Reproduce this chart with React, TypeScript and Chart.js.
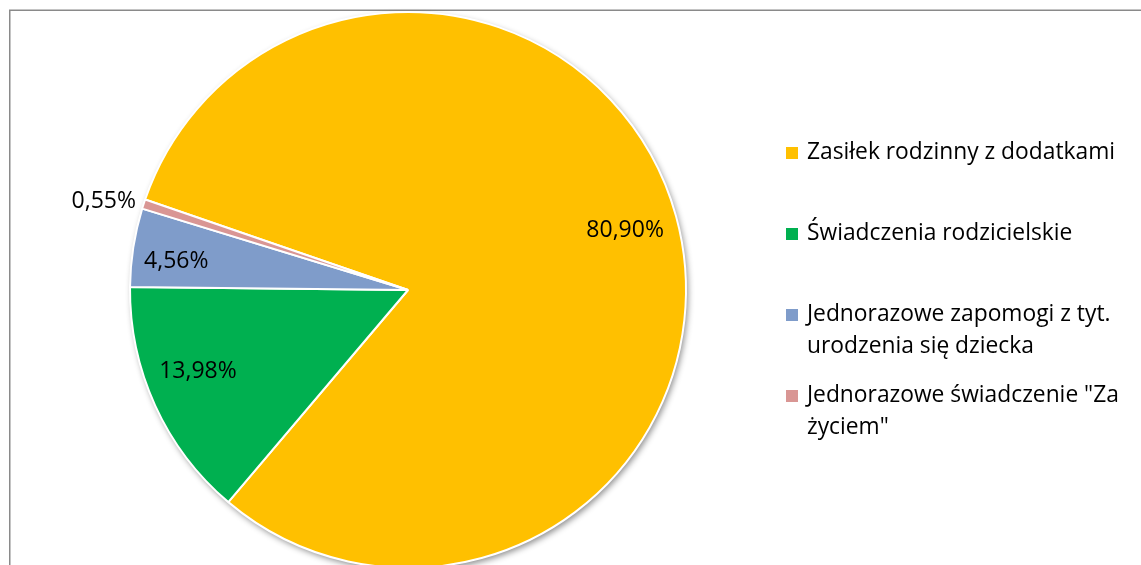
import React, { useEffect, useRef } from "react";
import { Chart, registerables } from "chart.js";

Chart.register(...registerables);

const categories: string[][] = [
  ["Zasiłek rodzinny z dodatkami"],
  ["Świadczenia rodzicielskie"],
  ["Jednorazowe zapomogi z tyt.", "urodzenia się dziecka"],
  ["Jednorazowe świadczenie \"Za", "życiem\""],
];
const values: number[] = [80.9, 13.98, 4.56, 0.55];
const valueLabels: string[] = ["80,90%", "13,98%", "4,56%", "0,55%"];
const colors: string[] = ["#FFC000", "#00B050", "#7F9CCA", "#D99694"];

const FONT = "'Open Sans', 'Noto Sans', sans-serif";

const framePlugin = {
  id: "frame",
  beforeDraw(chart: any) {
    const ctx = chart.ctx;
    ctx.save();
    ctx.fillStyle = "#ffffff";
    ctx.fillRect(0, 0, chart.width, chart.height);
    ctx.strokeStyle = "#8a8a8a";
    ctx.lineWidth = 1.5;
    ctx.beginPath();
    ctx.moveTo(9.75, chart.height);
    ctx.lineTo(9.75, 10.25);
    ctx.lineTo(chart.width, 10.25);
    ctx.stroke();
    ctx.restore();
  },
  beforeDatasetsDraw(chart: any) {
    const meta = chart.getDatasetMeta(0);
    const arc = meta.data[0];
    if (!arc) return;
    const ctx = chart.ctx;
    ctx.save();
    ctx.shadowColor = "rgba(0,0,0,0.45)";
    ctx.shadowBlur = 6;
    ctx.shadowOffsetX = 2;
    ctx.shadowOffsetY = 3;
    ctx.fillStyle = "#ffffff";
    ctx.beginPath();
    ctx.arc(arc.x, arc.y, arc.outerRadius, 0, Math.PI * 2);
    ctx.fill();
    ctx.restore();
  },
};

// radial position of each label as a fraction of the radius (negative = outside)
const labelFactors = [0.81, 0.81, 0.84, -1];
// angular shift of label positions (radians)
const labelAngleShift = [0, 0.06, -0.03, 0];

const labelPlugin = {
  id: "sliceLabels",
  afterDatasetsDraw(chart: any) {
    const ctx = chart.ctx;
    const meta = chart.getDatasetMeta(0);
    ctx.save();
    ctx.fillStyle = "#000000";
    ctx.font = `23px ${FONT}`;
    ctx.textBaseline = "middle";
    meta.data.forEach((arc: any, i: number) => {
      const mid = (arc.startAngle + arc.endAngle) / 2 + labelAngleShift[i];
      const f = labelFactors[i];
      if (f > 0) {
        const r = arc.outerRadius * f;
        ctx.textAlign = "center";
        ctx.fillText(valueLabels[i], arc.x + Math.cos(mid) * r, arc.y + Math.sin(mid) * r);
      } else {
        const r = arc.outerRadius + 8;
        ctx.textAlign = "right";
        ctx.fillText(valueLabels[i], arc.x + Math.cos(mid) * r, arc.y + Math.sin(mid) * r);
      }
    });
    ctx.restore();
  },
};

const legendPlugin = {
  id: "customLegend",
  afterDraw(chart: any) {
    const ctx = chart.ctx;
    const labels = chart.data.labels as string[][];
    const bg = chart.data.datasets[0].backgroundColor as string[];
    const boxX = 786;
    const textX = 807;
    const firstY = 153;
    const itemStep = 81;
    const lineH = 32;
    const box = 12;
    ctx.save();
    ctx.font = `22.8px ${FONT}`;
    ctx.textBaseline = "middle";
    ctx.textAlign = "left";
    labels.forEach((lines, i) => {
      const y = firstY + i * itemStep;
      ctx.fillStyle = bg[i];
      ctx.fillRect(boxX, y - box / 2, box, box);
      ctx.fillStyle = "#000000";
      lines.forEach((ln, j) => {
        ctx.fillText(ln, textX, y + j * lineH);
      });
    });
    ctx.restore();
  },
};

export default function App() {
  const ref = useRef<HTMLCanvasElement>(null);
  useEffect(() => {
    document.body.style.margin = "0";
    if (!ref.current) return;
    const chart = new Chart(ref.current, {
      type: "pie",
      data: {
        labels: categories,
        datasets: [
          {
            data: values,
            backgroundColor: colors,
            borderColor: "#ffffff",
            borderWidth: 2,
          },
        ],
      },
      options: {
        animation: false,
        responsive: false,
        rotation: 289,
        layout: { padding: { top: 11, bottom: 31, left: 129, right: 454 } },
        plugins: {
          legend: { display: false },
          tooltip: { enabled: false },
        },
      },
      plugins: [framePlugin, labelPlugin, legendPlugin],
    });
    return () => chart.destroy();
  }, []);
  return (
    <div style={{ width: 1141, height: 565, overflow: "hidden", position: "relative" }}>
      <canvas ref={ref} width={1141} height={600} style={{ display: "block" }} />
    </div>
  );
}
